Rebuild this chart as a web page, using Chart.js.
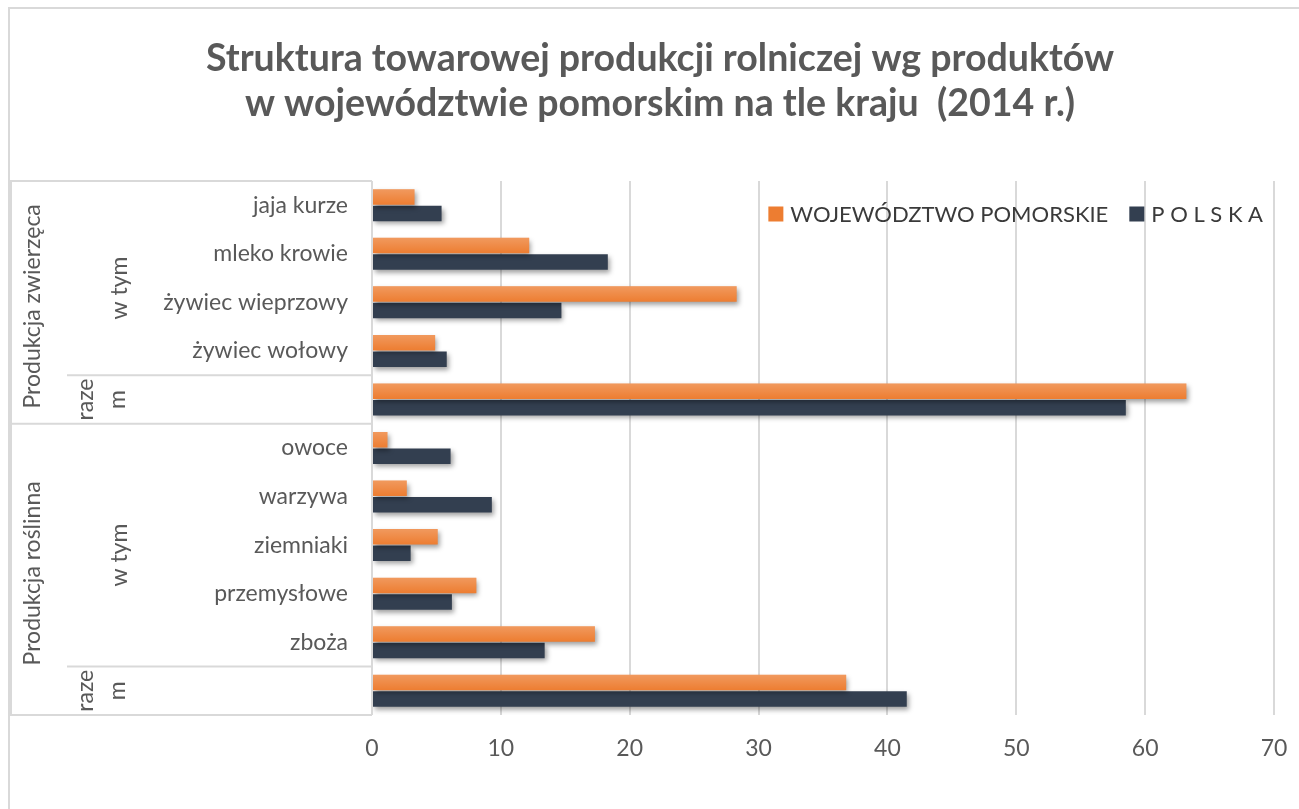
<!DOCTYPE html>
<html>
<head>
<meta charset="utf-8">
<script src="https://cdn.jsdelivr.net/npm/chart.js@4"></script>
<style>
html,body{margin:0;padding:0;background:#fff;}
#wrap{width:1299px;height:809px;}
</style>
</head>
<body>
<div id="wrap"><canvas id="chart" width="1299" height="809"></canvas></div>
<script>
/* DATA */

const categories=["jaja kurze","mleko krowie","żywiec wieprzowy","żywiec wołowy","razem","owoce","warzywa","ziemniaki","przemysłowe","zboża","razem"];
const pomorskie=[3.3,12.2,28.3,4.9,63.2,1.2,2.7,5.1,8.1,17.3,36.8];
const polska=[5.4,18.3,14.7,5.8,58.5,6.1,9.3,3.0,6.2,13.4,41.5];
const xTicks=[0,10,20,30,40,50,60,70];
const seriesNames=["WOJEWÓDZTWO POMORSKIE","P O L S K A"];
const groupNames=["Produkcja zwierzęca","Produkcja roślinna"];
const groupRanges=[[0,4],[5,10]];

const FONT="Lato, 'Open Sans', sans-serif";
const GREY="#595959";
const LINE="#d9d9d9";


/* SHADOW UNDER BARS + LIGHT TOP ON ORANGE */

const shadow={
id:"shadow",
beforeDatasetsDraw(chart){
const c=chart.ctx;
c.save();
c.shadowColor="rgba(0,0,0,0.38)";
c.shadowBlur=5;
c.shadowOffsetX=2;
c.shadowOffsetY=3;
},
afterDatasetsDraw(chart){
const c=chart.ctx;
c.restore();
c.save();
chart.getDatasetMeta(0).data.forEach(b=>{
const top=b.y-b.height/2;
const g=c.createLinearGradient(0,top,0,top+b.height);
g.addColorStop(0,"rgba(255,255,255,0.22)");
g.addColorStop(1,"rgba(255,255,255,0)");
c.fillStyle=g;
c.fillRect(b.base,top,b.x-b.base,b.height);
});
c.restore();
}
};


/* LEFT LABEL TABLE + FRAME + LEGEND */

const table={
id:"table",
afterDraw(chart){

const c=chart.ctx;
const area=chart.chartArea;
const y=chart.scales.y;
const n=categories.length;
const band=(area.bottom-area.top)/n;
const edge=i=>area.top+i*band;

c.save();
c.strokeStyle=LINE;
c.lineWidth=2;

// outer frame
c.beginPath();
c.moveTo(9,809);c.lineTo(9,8);c.lineTo(1299,8);
c.stroke();

// table lines
const hl=(yy,x0)=>{c.beginPath();c.moveTo(x0,yy);c.lineTo(area.left,yy);c.stroke();};
hl(edge(0),10);
hl(edge(4),67);
hl(edge(5),10);
hl(edge(10),67);
hl(edge(11),10);
c.beginPath();c.moveTo(11,edge(0));c.lineTo(11,edge(11));c.stroke();
c.beginPath();c.moveTo(area.left,edge(0));c.lineTo(area.left,edge(11));c.stroke();

// rotated texts
c.fillStyle=GREY;
c.font="23px "+FONT;
c.textAlign="center";
c.textBaseline="middle";
const vtext=(t,x,yy)=>{c.save();c.translate(x,yy);c.rotate(-Math.PI/2);c.fillText(t,0,0);c.restore();};

groupRanges.forEach((r,g)=>{
vtext(groupNames[g],33,(edge(r[0])+edge(r[1]+1))/2+4);
vtext("w tym",120,(edge(r[0])+edge(r[1]))/2+10);
const rc=y.getPixelForValue(r[1]);
vtext("raze",86,rc);
vtext("m",118,rc);
});

// legend
c.font="22px "+FONT;
c.textAlign="left";
const box=15,gap=7,spacing=21;
const ds=chart.data.datasets;
const widths=ds.map(d=>c.measureText(d.label).width);
let total=0;
widths.forEach((w,i)=>{total+=box+gap+w+(i<widths.length-1?spacing:0);});
let x=area.right-11-total;
const ly=area.top+33;
ds.forEach((d,i)=>{
c.fillStyle=d.backgroundColor;
c.fillRect(x,ly-box/2,box,box);
c.fillStyle="#3a3a3a";
c.fillText(d.label,x+box+gap,ly+1);
x+=box+gap+widths[i]+spacing;
});

c.restore();
}
};


/* CHART */

new Chart(document.getElementById("chart"),{

type:"bar",

data:{
labels:categories,
datasets:[
{label:seriesNames[0],data:pomorskie,backgroundColor:"#ED7D31"},
{label:seriesNames[1],data:polska,backgroundColor:"#333F50"}
]
},

options:{
responsive:false,
animation:false,
indexAxis:"y",
categoryPercentage:0.68,
barPercentage:0.94,
layout:{padding:{left:46,right:25,top:8,bottom:0}},
plugins:{
legend:{display:false},
tooltip:{enabled:false},
title:{
display:true,
text:["Struktura towarowej produkcji rolniczej wg produktów","w województwie pomorskim na tle kraju  (2014 r.)"],
color:GREY,
font:{family:FONT,size:37.5,weight:"bold",lineHeight:45/37.5},
padding:{top:28,bottom:55}
}
},
scales:{
x:{
min:0,
max:70,
afterBuildTicks:s=>{s.ticks=xTicks.map(v=>({value:v}));},
grid:{color:LINE,lineWidth:2,drawTicks:false},
border:{display:false},
ticks:{color:GREY,font:{family:FONT,size:23},padding:20},
afterFit:s=>{s.height=94;s.paddingRight=0;s.paddingLeft=0;}
},
y:{
grid:{display:false,drawTicks:false},
border:{display:false},
ticks:{
color:GREY,
font:{family:FONT,size:23},
padding:24,
callback:function(v){const t=this.getLabelForValue(v);return t==="razem"?"":t;}
},
afterFit:s=>{s.width=326;}
}
}
},

plugins:[shadow,table]

});
</script>
</body>
</html>
